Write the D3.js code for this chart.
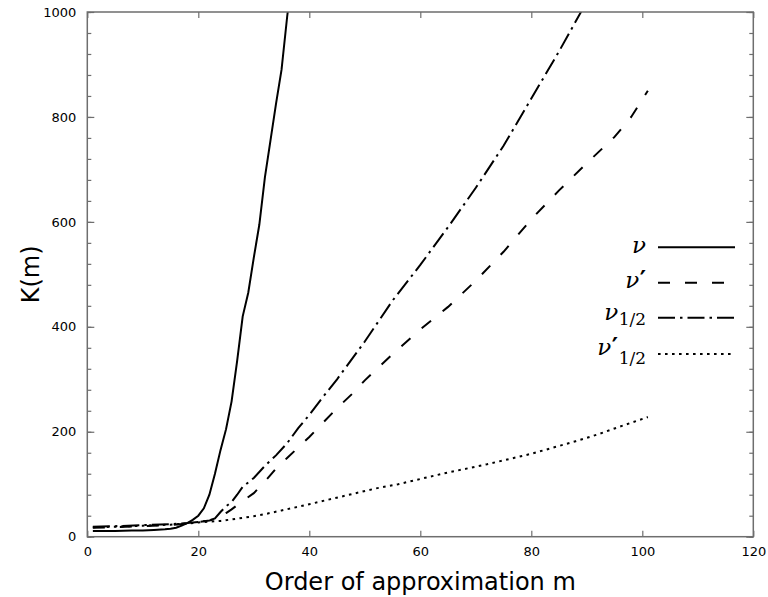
<!DOCTYPE html>
<html><head><meta charset="utf-8">
<script src="https://cdn.jsdelivr.net/npm/d3@7"></script>
<style>body{margin:0;background:#fff}svg{display:block}</style>
</head><body>
<script>
// ---- data ----
const nuM   = [1,3,5,8,10,12,14,15,16,17,18,19,20,21,22,23,24,25,26,27,28,29,30,31,32,33,34,35,36,37];
const nuK   = [11,11,11,12,12,13,14,15,17,21,26,32,40,54,80,120,165,205,258,335,420,465,532,595,685,755,825,890,990,1080];
const nuPM  = [1,5,10,15,18,20,22,23,24,25,26,27,28,30,32,34,36,38,40,42,45,48,50,55,60,65,70,75,80,85,90,95,98,101];
const nuPK  = [17,18,20,22,25,28,31,33,38,45,52,60,68,83,105,130,150,170,190,212,245,275,298,348,395,438,488,543,605,660,712,762,800,850];
const nuHM  = [1,5,10,15,18,20,22,23,24,25,26,27,28,30,32,34,36,38,40,42,45,50,55,60,65,70,75,80,85,90,95,101];
const nuHK  = [19,20,22,24,26,28,31,35,47,58,66,80,95,112,135,155,178,207,232,260,300,372,450,518,590,665,745,835,925,1020,1110,1230];
const nuPHM = [1,5,10,15,18,20,22,24,26,28,30,32,35,38,40,44,48,52,56,60,64,68,72,76,80,84,88,92,96,101];
const nuPHK = [18,19,21,23,25,27,29,30,33,36,39,43,50,57,62,72,82,92,100,110,120,129,138,148,158,170,182,195,210,228];
const xTicks = [0,20,40,60,80,100,120];
const yTicks = [0,200,400,600,800,1000];
const yMinor = d3.range(0,1001,40);

const W=768,H=597;
const L=87.3,R=753.3,T=12,B=536.7;
const svg=d3.select("body").append("svg").attr("width",W).attr("height",H);
const x=d3.scaleLinear().domain([0,120]).range([L,R]);
const y=d3.scaleLinear().domain([0,1000]).range([B,T]);

svg.append("clipPath").attr("id","clip").append("rect")
  .attr("x",L).attr("y",T).attr("width",R-L).attr("height",B-T);

const series=[
  {m:nuM,k:nuK,dash:null},
  {m:nuPM,k:nuPK,dash:"12,15"},
  {m:nuHM,k:nuHK,dash:"17,5,2.5,5"},
  {m:nuPHM,k:nuPHK,dash:"2.6,4.4"}
];
const line=d3.line().x(d=>x(d[0])).y(d=>y(d[1]));
const g=svg.append("g").attr("clip-path","url(#clip)");
series.forEach(s=>{
  g.append("path").datum(s.m.map((v,i)=>[v,s.k[i]]))
    .attr("d",line).attr("fill","none").attr("stroke","#000")
    .attr("stroke-width",2).attr("stroke-dasharray",s.dash);
});

// axes
const axCol="#6e6e6e";
const tf=g=>{g.select(".domain").remove();g.selectAll("line").attr("stroke",axCol).attr("stroke-width",1.2);
  g.selectAll("text").attr("fill","#000").style("font-family","DejaVu Sans").style("font-size","13px");};
svg.append("g").attr("transform",`translate(0,${B})`)
  .call(d3.axisBottom(x).tickValues(xTicks).tickSize(-6).tickPadding(10).tickFormat(d3.format("d"))).call(tf);
svg.append("g").attr("transform",`translate(0,${T})`)
  .call(d3.axisTop(x).tickValues(xTicks).tickSize(-6).tickFormat("")).call(tf);
svg.append("g").attr("transform",`translate(${L},0)`)
  .call(d3.axisLeft(y).tickValues(yTicks).tickSize(-7).tickPadding(11).tickFormat(d3.format("d"))).call(tf);
svg.append("g").attr("transform",`translate(${L},0)`)
  .call(d3.axisLeft(y).tickValues(yMinor).tickSize(-4).tickFormat("")).call(tf);
svg.append("g").attr("transform",`translate(${R},0)`)
  .call(d3.axisRight(y).tickValues(yTicks).tickSize(-7).tickFormat("")).call(tf);
svg.append("g").attr("transform",`translate(${R},0)`)
  .call(d3.axisRight(y).tickValues(yMinor).tickSize(-4).tickFormat("")).call(tf);
svg.append("rect").attr("x",L).attr("y",T).attr("width",R-L).attr("height",B-T)
  .attr("fill","none").attr("stroke",axCol).attr("stroke-width",1.5);

// titles
svg.append("text").attr("x",(L+R)/2).attr("y",590).attr("text-anchor","middle")
  .style("font-family","DejaVu Sans").style("font-size","24px").text("Order of approximation m");
svg.append("text").attr("transform",`translate(39,${(T+B)/2}) rotate(-90)`).attr("text-anchor","middle")
  .style("font-family","DejaVu Sans").style("font-size","24px").text("K(m)");

// legend
const legRows=[
  {ly:247.3,base:253,prime:false,sub:false,dash:null},
  {ly:282.7,base:288.3,prime:true,sub:false,dash:"12,15"},
  {ly:317.7,base:320,prime:false,sub:true,subDy:5,dash:"17,5,2.5,5"},
  {ly:354,base:355,prime:true,sub:true,subDy:9,dash:"2.6,4.4"}
];
const lx0=658,lx1=735,tx=646;
const serif="DejaVu Serif";
legRows.forEach(r=>{
  svg.append("line").attr("x1",lx0).attr("x2",lx1).attr("y1",r.ly).attr("y2",r.ly)
    .attr("stroke","#000").attr("stroke-width",2).attr("stroke-dasharray",r.dash);
  const t=svg.append("text").attr("x",tx).attr("y",r.base).attr("text-anchor","end")
    .style("font-family",serif).style("font-size","23px");
  t.append("tspan").style("font-style","italic").text("ν");
  if(r.prime) t.append("tspan").attr("dx",0.5).style("font-size","24px").style("font-weight","bold").text("′");
  if(r.sub) t.append("tspan").attr("dx",0.5).attr("dy",r.subDy).style("font-size","17px").style("font-weight","normal").text("1/2");
});
</script>
</body></html>
